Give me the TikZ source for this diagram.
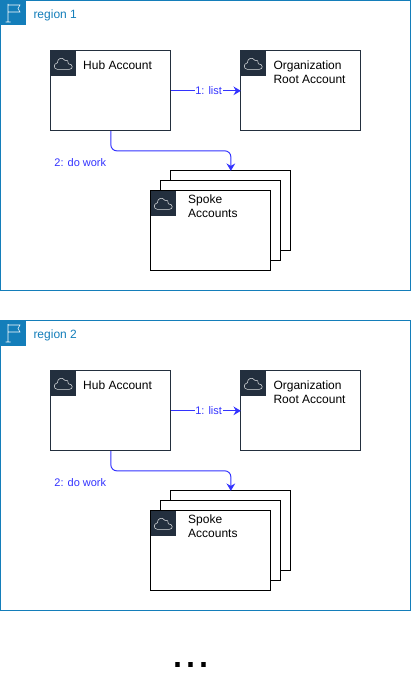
\documentclass[tikz,border=0pt]{standalone}
\usepackage{fontspec}
\setmainfont{Liberation Sans}
\usetikzlibrary{arrows.meta,positioning}
\definecolor{regionblue}{HTML}{147EBA}
\definecolor{awsnavy}{HTML}{232F3E}
\definecolor{callblue}{HTML}{3333FF}

\begin{document}
\begin{tikzpicture}[
  x=0.75pt, y=-0.75pt,
  every node/.style={outer sep=0pt},
  regionbox/.style={draw=regionblue, line width=0.75pt, minimum width=307.5pt, minimum height=217.5pt, inner sep=0pt},
  regiontab/.style={fill=regionblue, minimum size=18.75pt, inner sep=0pt, anchor=north west,
    path picture={\draw[white, line width=0.4pt, shift={(path picture bounding box.center)}]
      (-5,-9) -- (-5,9) (-7.5,9) -- (-2.5,9)
      (-5,-8) -- (7,-8) -- (5,-4.5) -- (7,-1) -- (-5,-1);}},
  regionlabel/.style={text=regionblue, font=\fontsize{9pt}{10.5pt}\selectfont, inner sep=0pt},
  account/.style={draw=awsnavy, fill=white, line width=0.75pt, minimum width=90pt, minimum height=60pt, inner sep=0pt},
  spoke/.style={draw=black, fill=white, line width=0.75pt, minimum width=90pt, minimum height=60pt, inner sep=0pt, anchor=north west},
  cloudtab/.style={fill=awsnavy, minimum size=18.75pt, inner sep=0pt, anchor=north west,
    path picture={\draw[white!85!awsnavy, line width=0.4pt, shift={(path picture bounding box.center)}]
      (-6,6) .. controls (-10,6) and (-10,0) .. (-6,-0.5)
      .. controls (-6,-5) and (-1,-7) .. (1.5,-3)
      .. controls (4,-4) and (5.5,-2) .. (5,0.5)
      .. controls (10,0.5) and (10,6) .. (6,6) -- cycle;}},
  boxtitle/.style={font=\fontsize{9pt}{10.5pt}\selectfont, align=left, inner sep=0pt, anchor=north west},
  arrow/.style={-{Stealth[length=5.5pt,width=6.5pt]}, callblue, line width=0.75pt},
  calllabel/.style={text=callblue, font=\fontsize{8.25pt}{10pt}\selectfont, inner sep=0pt}
]
\useasboundingbox (0,0) rectangle (411,677);
% first region
\node[regionbox, anchor=north west] (regionA) at (0.5,0.5) {};
\node[regiontab] (flagA) at (regionA.north west) {};
\node[regionlabel, right=6pt of flagA, yshift=-2pt] (regionAtext) {region 1};
\node[account, below right=19pt and 19pt of flagA.south east, anchor=north west] (hubA) {};
\node[cloudtab] (hubAicon) at (hubA.north west) {};
\node[boxtitle] (hubAtext) at ([xshift=24.25pt,yshift=-7.75pt]hubA.north west) {Hub Account};
\node[account, right=52.5pt of hubA] (orgA) {};
\node[cloudtab] (orgAicon) at (orgA.north west) {};
\node[boxtitle] (orgAtext) at ([xshift=24.5pt,yshift=-7.75pt]orgA.north west) {Organization\\Root Account};
\node[spoke, below right=30pt and 0pt of hubA.south east] (spokeAback) {};
\node[spoke] (spokeAmid) at ([shift={(-10,10)}]spokeAback.north west) {};
\node[spoke] (spokeAfront) at ([shift={(-10,10)}]spokeAmid.north west) {};
\node[cloudtab] (spokeAicon) at (spokeAfront.north west) {};
\node[boxtitle] (spokeAtext) at ([xshift=28pt,yshift=-3.25pt]spokeAfront.north west) {Spoke\\Accounts};
\coordinate[below=15pt of hubA.south] (elbowA);
\draw[arrow] (hubA) -- node[calllabel, fill=white, pos=0.54, inner xsep=0.5pt, yshift=0.5pt]{1: list} (orgA);
\draw[arrow, rounded corners=4.5pt] (hubA.south) -- (elbowA) -| (spokeAback.north);
\node[calllabel, below left=5.5pt and 3.5pt of elbowA] (workA) {2: do work};
% second region
\node[regionbox, below=22.5pt of regionA] (regionB) {};
\node[regiontab] (flagB) at (regionB.north west) {};
\node[regionlabel, right=6pt of flagB, yshift=-2pt] (regionBtext) {region 2};
\node[account, below right=19pt and 19pt of flagB.south east, anchor=north west] (hubB) {};
\node[cloudtab] (hubBicon) at (hubB.north west) {};
\node[boxtitle] (hubBtext) at ([xshift=24.25pt,yshift=-7.75pt]hubB.north west) {Hub Account};
\node[account, right=52.5pt of hubB] (orgB) {};
\node[cloudtab] (orgBicon) at (orgB.north west) {};
\node[boxtitle] (orgBtext) at ([xshift=24.5pt,yshift=-7.75pt]orgB.north west) {Organization\\Root Account};
\node[spoke, below right=30pt and 0pt of hubB.south east] (spokeBback) {};
\node[spoke] (spokeBmid) at ([shift={(-10,10)}]spokeBback.north west) {};
\node[spoke] (spokeBfront) at ([shift={(-10,10)}]spokeBmid.north west) {};
\node[cloudtab] (spokeBicon) at (spokeBfront.north west) {};
\node[boxtitle] (spokeBtext) at ([xshift=28pt,yshift=-3.25pt]spokeBfront.north west) {Spoke\\Accounts};
\coordinate[below=15pt of hubB.south] (elbowB);
\draw[arrow] (hubB) -- node[calllabel, fill=white, pos=0.54, inner xsep=0.5pt, yshift=0.5pt]{1: list} (orgB);
\draw[arrow, rounded corners=4.5pt] (hubB.south) -- (elbowB) -| (spokeBback.north);
\node[calllabel, below left=5.5pt and 3.5pt of elbowB] (workB) {2: do work};
% more regions follow
\node[font=\fontsize{35pt}{35pt}\selectfont, inner sep=0pt, anchor=base] (moredots) at (191,667) {...};
\end{tikzpicture}
\end{document}
